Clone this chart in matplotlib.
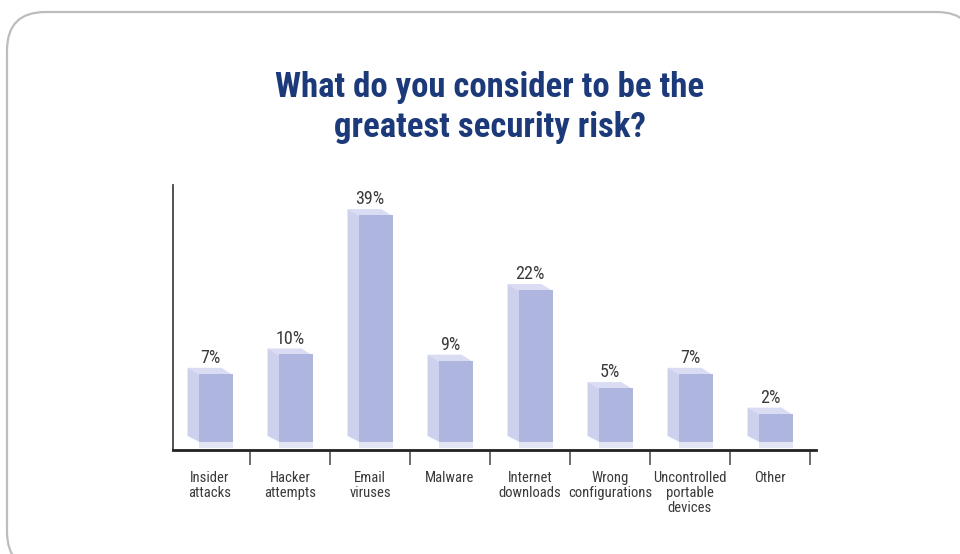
import numpy as np
import matplotlib
matplotlib.use("Agg")
from matplotlib import pyplot as plt
from matplotlib.patches import FancyBboxPatch, Polygon
from matplotlib.transforms import IdentityTransform

# Dados
categorias = ["Insider\nattacks", "Hacker\nattempts", "Email\nviruses", "Malware",
              "Internet\ndownloads", "Wrong\nconfigurations",
              "Uncontrolled\nportable\ndevices", "Other"]
valores = [7, 10, 39, 9, 22, 5, 7, 2]
rotulos = ["7%", "10%", "39%", "9%", "22%", "5%", "7%", "2%"]

titulo = "What do you consider to be the\ngreatest security risk?"

fonte = ["Roboto Condensed", "DejaVu Sans"]
cor_frente = "#aeb5de"
cor_lado = "#cdd1ee"
cor_topo = "#dadcf3"
cor_chao = "#e3e5f4"
cor_titulo = "#1c3a7a"
cor_texto = "#3a3a3a"

# a figura original nao esta em escala linear
P = 0.7
def fwd(v):
    v = np.asarray(v, dtype=float)
    return np.sign(v) * np.abs(v) ** P
def inv(u):
    u = np.asarray(u, dtype=float)
    return np.sign(u) * np.abs(u) ** (1 / P)

fig = plt.figure(figsize=(9.6, 5.54), dpi=100)
fig.patch.set_facecolor("white")

# moldura arredondada
W, H = 960, 554
caixa = FancyBboxPatch((7 / W, 1 - 570 / H), 968 / W, 558 / H,
                       boxstyle="round,pad=0,rounding_size=0.04",
                       transform=fig.transFigure, facecolor="white",
                       edgecolor="#bdbdbd", linewidth=1.6, mutation_aspect=W / H,
                       zorder=-5)
fig.patches.append(caixa)

ax = fig.add_axes([173 / W, 104 / H, 643 / W, 265 / H])
ax.set_facecolor("none")
ax.set_yscale("function", functions=(fwd, inv))
ax.set_xlim(-0.4625, 7.575)
ax.set_ylim(-0.33, 46.6)

x = np.arange(len(valores))
larg = 0.425
xf = x + 0.069

barras = ax.bar(xf, valores, width=larg, color=cor_frente, zorder=3)
ax.bar(xf, -0.2, width=larg, color=cor_chao, zorder=2)

# faces lateral e de topo (efeito 3D), em pixels a partir das barras
dx, dy = 11, 6
for b in barras:
    (x0, y0), (x1, y1) = ax.transData.transform(
        [(b.get_x(), 0), (b.get_x() + b.get_width(), b.get_height())])
    lado = Polygon([(x0 + 1, y0), (x0 + 1, y1), (x0 - dx, y1 + dy), (x0 - dx, y0 + dy)],
                   closed=True, facecolor=cor_lado, edgecolor="none",
                   transform=IdentityTransform(), zorder=2)
    topo = Polygon([(x0, y1 - 1), (x1, y1 - 1), (x1 - dx, y1 + dy), (x0 - dx, y1 + dy)],
                   closed=True, facecolor=cor_topo, edgecolor="none",
                   transform=IdentityTransform(), zorder=2)
    ax.add_patch(lado)
    ax.add_patch(topo)

for xi, v, r in zip(x, valores, rotulos):
    ax.annotate(r, xy=(xi, v), xytext=(0, 5), textcoords="offset points",
                ha="center", va="bottom", fontsize=13, color=cor_texto,
                family=fonte)

ax.set_xticks(x)
ax.set_xticklabels(categorias, fontsize=10.5, color=cor_texto, family=fonte,
                   linespacing=1.12)
ax.set_xticks(np.arange(0.5, 8, 1), minor=True)
ax.tick_params(axis="x", which="major", length=0, pad=15)
ax.tick_params(axis="x", which="minor", length=10.5, width=1.2, color="#555555")
ax.set_yticks([])
ax.yaxis.set_minor_locator(matplotlib.ticker.NullLocator())

for s in ["top", "right"]:
    ax.spines[s].set_visible(False)
ax.spines["left"].set_color("#444444")
ax.spines["left"].set_linewidth(1.3)
ax.spines["bottom"].set_color("#222222")
ax.spines["bottom"].set_linewidth(2)

fig.text(490 / W, 1 - 71 / H, titulo, ha="center", va="top", fontsize=25,
         fontweight="bold", color=cor_titulo, family=fonte, linespacing=1.25)

fig.savefig("out.png", dpi=100, facecolor="white")
